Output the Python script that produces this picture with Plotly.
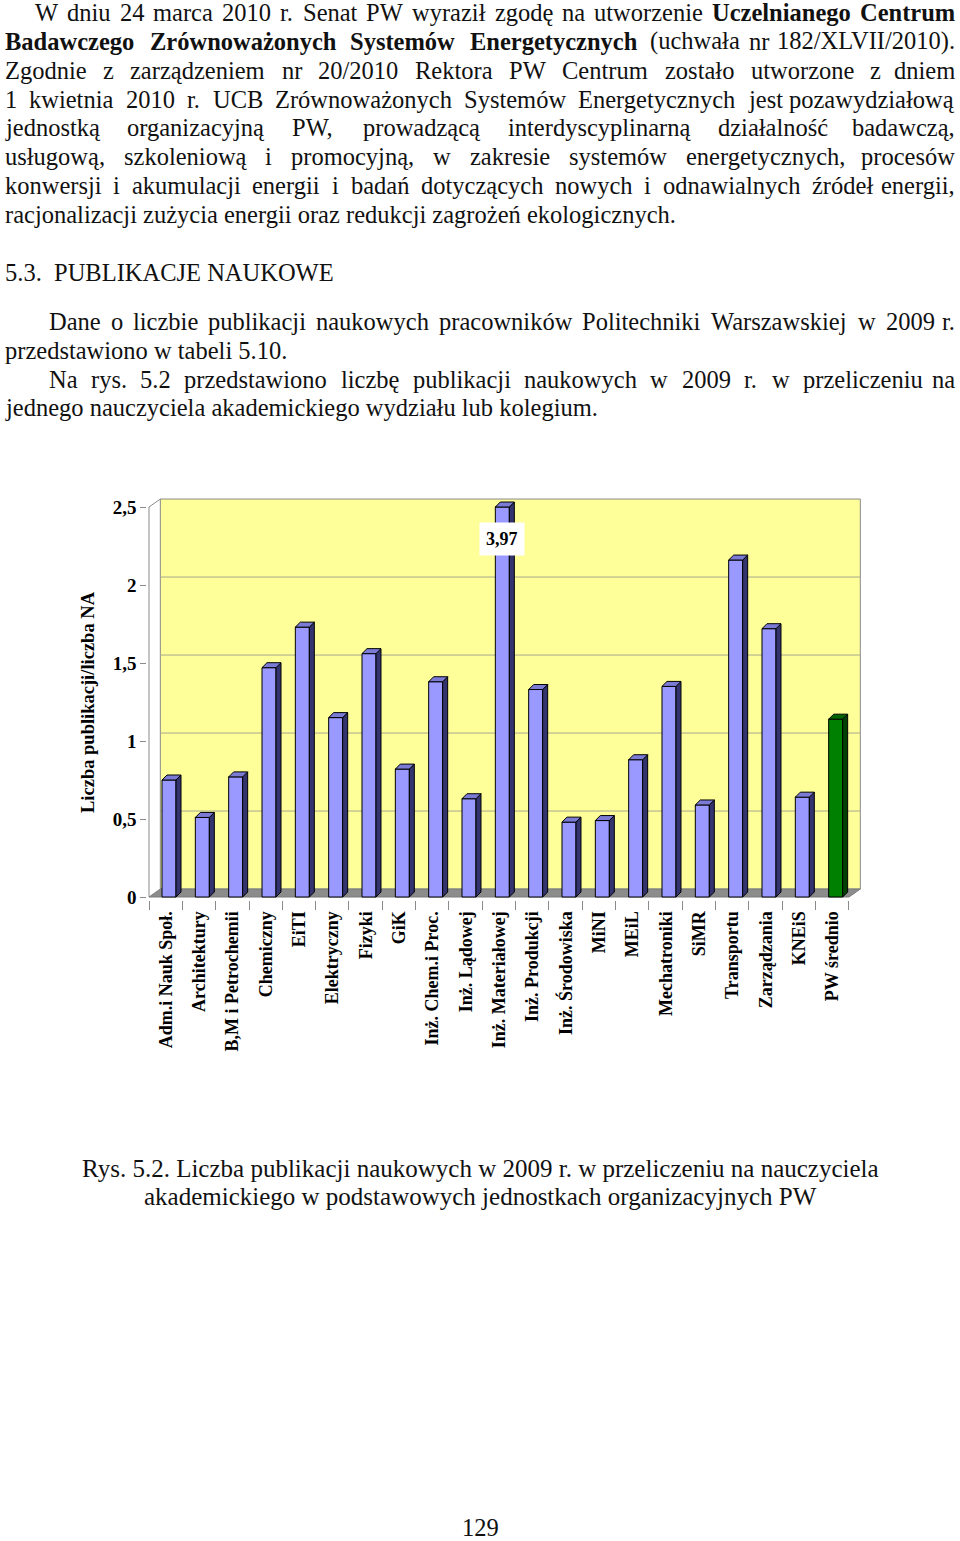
import unicodedata
import plotly.graph_objects as go

# dane z wykresu (rys. 5.2)
categories = ["Adm.i Nauk Społ.", "Architektury", "B,M i Petrochemii", "Chemiczny", "EiTI",
              "Elektryczny", "Fizyki", "GiK", "Inż. Chem.i Proc.", "Inż. Lądowej",
              "Inż. Materiałowej", "Inż. Produkcji", "Inż. Środowiska", "MiNI", "MEiL",
              "Mechatroniki", "SiMR", "Transportu", "Zarządzania", "KNEiS", "PW średnio"]
values = [0.75, 0.51, 0.77, 1.47, 1.73, 1.15, 1.56, 0.82, 1.38, 0.63, 3.97, 1.33,
          0.48, 0.49, 0.88, 1.35, 0.59, 2.16, 1.72, 0.64, 1.14]
y_ticks = [0, 0.5, 1, 1.5, 2, 2.5]
y_tick_labels = ["0", "0,5", "1", "1,5", "2", "2,5"]
y_title = "Liczba publikacji/liczba NA"

# tekst strony; "*" = pogrubienie
par1 = [
    "W dniu 24 marca 2010 r. Senat PW wyraził zgodę na utworzenie *Uczelnianego *Centrum",
    "*Badawczego *Zrównoważonych *Systemów *Energetycznych (uchwała nr 182/XLVII/2010).",
    "Zgodnie z zarządzeniem nr 20/2010 Rektora PW Centrum zostało utworzone z dniem",
    "1 kwietnia 2010 r. UCB Zrównoważonych Systemów Energetycznych jest pozawydziałową",
    "jednostką organizacyjną PW, prowadzącą interdyscyplinarną działalność badawczą,",
    "usługową, szkoleniową i promocyjną, w zakresie systemów energetycznych, procesów",
    "konwersji i akumulacji energii i badań dotyczących nowych i odnawialnych źródeł energii,",
    "racjonalizacji zużycia energii oraz redukcji zagrożeń ekologicznych.",
]
heading = "5.3.  PUBLIKACJE NAUKOWE"
par2 = [
    "Dane o liczbie publikacji naukowych pracowników Politechniki Warszawskiej w 2009 r.",
    "przedstawiono w tabeli 5.10.",
]
par3 = [
    "Na rys. 5.2 przedstawiono liczbę publikacji naukowych w 2009 r. w przeliczeniu na",
    "jednego nauczyciela akademickiego wydziału lub kolegium.",
]
caption = [
    "Rys. 5.2. Liczba publikacji naukowych w 2009 r. w przeliczeniu na nauczyciela",
    "akademickiego w podstawowych jednostkach organizacyjnych PW",
]
page_no = "129"

W, H = 960, 1541
FONT = "Liberation Serif"
FS = 24.5
y_max = 2.5

# geometria wykresu (piksele strony)
X_LEFT_PX = 149.0
CAT_PX = 33.333
Y0_PX = 897.0
UNIT_PX = 156.0
x_range = [-0.55, 20.9]
y_range = [-0.02, 2.58]
DX, DY = 0.34, 0.051      # przesunięcie tylnej ściany
BDX, BDY = 0.15, 0.032    # głębokość słupka
BW, BOFF = 0.42, -0.11


def xpx(v):
    return X_LEFT_PX + (v + 0.5) * CAT_PX


def ypx(v):
    return Y0_PX - v * UNIT_PX


EM = {
    "a": .444, "b": .5, "c": .444, "d": .5, "e": .444, "f": .333, "g": .5, "h": .5, "i": .278,
    "j": .278, "k": .5, "l": .278, "m": .778, "n": .5, "o": .5, "p": .5, "q": .5, "r": .333,
    "s": .389, "t": .278, "u": .5, "v": .5, "w": .722, "x": .5, "y": .5, "z": .444,
    "A": .722, "B": .667, "C": .667, "D": .722, "E": .611, "F": .556, "G": .722, "H": .722,
    "I": .333, "J": .389, "K": .722, "L": .611, "M": .889, "N": .722, "O": .722, "P": .556,
    "Q": .722, "R": .667, "S": .556, "T": .611, "U": .722, "V": .722, "W": .944, "X": .722,
    "Y": .722, "Z": .611, ".": .25, ",": .25, "/": .278, "(": .333, ")": .333, " ": .25,
}


def base(c):
    if c == "ł":
        return "l"
    if c == "Ł":
        return "L"
    return unicodedata.normalize("NFD", c)[0]


def word_width(w, size):
    bold = w.startswith("*")
    w = w.lstrip("*")
    em = sum(EM.get(base(c), 0.5) for c in w)
    return em * size * (1.08 if bold else 1.0)


def fmt(w):
    return "<b>" + w[1:] + "</b>" if w.startswith("*") else w


annotations = []


def text_line(s, x0, baseline, x1=None, size=FS, anchor="left"):
    yc = 1 - (baseline - 0.28 * size) / H
    if x1 is None:
        annotations.append(dict(text=s, x=x0 / W, y=yc, xref="paper", yref="paper",
                                xanchor=anchor, yanchor="middle", showarrow=False,
                                font=dict(family=FONT, size=size, color="#111")))
        return
    words = s.split()
    total = sum(word_width(w, size) for w in words)
    gap = (x1 - x0 - total) / (len(words) - 1)
    x = x0
    for k, w in enumerate(words):
        last = k == len(words) - 1
        annotations.append(dict(text=fmt(w), x=(x1 if last else x) / W, y=yc,
                                xref="paper", yref="paper",
                                xanchor="right" if last else "left", yanchor="middle",
                                showarrow=False,
                                font=dict(family=FONT, size=size, color="#111")))
        x += word_width(w, size) + gap


for i, line in enumerate(par1):
    bl = 19.5 + 28.8 * i
    if i == 0:
        text_line(line, 33, bl, 957)
    elif i == len(par1) - 1:
        text_line(line, 3, bl)
    else:
        text_line(line, 3, bl, 957)

text_line(heading, 3, 279)
text_line(par2[0], 47, 328, 957)
text_line(par2[1], 3, 357)
text_line(par3[0], 47, 386, 957)
text_line(par3[1], 3, 414)
text_line(caption[0], 480, 1175, size=25, anchor="center")
text_line(caption[1], 480, 1203, size=25, anchor="center")
text_line(page_no, 480, 1534, anchor="center")

# wykres
n = len(categories)
xs = list(range(n))
shown = [min(v, y_max) for v in values]
front = ["#9999ff"] * (n - 1) + ["#008000"]
side = ["#33336e"] * (n - 1) + ["#004000"]
top = ["#7b7bd6"] * (n - 1) + ["#006400"]

shapes = []
# tylna ściana
shapes.append(dict(type="rect", xref="x", yref="y", x0=-0.5 + DX, x1=20.5 + DX,
                   y0=DY, y1=y_max + DY, fillcolor="#ffff99",
                   line=dict(color="#8a8a8a", width=1), layer="below"))
for t in y_ticks[1:-1]:
    shapes.append(dict(type="line", xref="x", yref="y", x0=-0.5 + DX, x1=20.5 + DX,
                       y0=t + DY, y1=t + DY, line=dict(color="#a8a890", width=1),
                       layer="below"))
# podłoga
shapes.append(dict(type="path", xref="x", yref="y",
                   path=f"M -0.5,0 L 20.5,0 L {20.5 + DX},{DY} L {-0.5 + DX},{DY} Z",
                   fillcolor="#8c8c8c", line=dict(color="#7a7a7a", width=1), layer="below"))
# lewa krawędź osi
shapes.append(dict(type="path", xref="x", yref="y",
                   path=f"M -0.5,0 L -0.5,{y_max} L {-0.5 + DX},{y_max + DY}",
                   line=dict(color="#8a8a8a", width=1), layer="below"))

# boki i wierzchy słupków
for i in xs:
    xl = i + BOFF
    xr = xl + BW
    v = shown[i]
    shapes.append(dict(type="path", xref="x", yref="y",
                       path=f"M {xr},0 L {xr + BDX},{BDY} L {xr + BDX},{v + BDY} L {xr},{v} Z",
                       fillcolor=side[i], line=dict(color="#000", width=1)))
    shapes.append(dict(type="path", xref="x", yref="y",
                       path=f"M {xl},{v} L {xr},{v} L {xr + BDX},{v + BDY} L {xl + BDX},{v + BDY} Z",
                       fillcolor=top[i], line=dict(color="#000", width=1)))

fig = go.Figure()
fig.add_trace(go.Bar(x=xs, y=shown, width=BW, offset=BOFF,
                     marker=dict(color=front, line=dict(color="#000", width=1)),
                     hoverinfo="skip"))

# etykieta dla słupka poza skalą
for i, v in enumerate(values):
    if v > y_max:
        annotations.append(dict(text="<b>" + f"{v:.2f}".replace(".", ",") + "</b>",
                                x=i + BOFF + BW / 2, y=2.295, xref="x", yref="y",
                                showarrow=False, bgcolor="white", borderpad=6,
                                font=dict(family=FONT, size=18, color="#000")))

annotations.append(dict(text="<b>" + y_title + "</b>", x=88 / W, y=1 - 702 / H,
                        xref="paper", yref="paper", xanchor="center", yanchor="middle",
                        textangle=-90, showarrow=False,
                        font=dict(family=FONT, size=18.5, color="#000")))

x_dom = [xpx(x_range[0]) / W, xpx(x_range[1]) / W]
y_dom = [1 - ypx(y_range[0]) / H, 1 - ypx(y_range[1]) / H]

fig.update_layout(
    width=W, height=H,
    margin=dict(l=0, r=0, t=0, b=0),
    paper_bgcolor="white", plot_bgcolor="rgba(0,0,0,0)",
    showlegend=False,
    shapes=shapes, annotations=annotations,
    xaxis=dict(domain=x_dom, range=x_range, tickmode="array", tickvals=xs,
               ticktext=categories, tickangle=-90, ticks="outside", ticklen=3,
               tickcolor="rgba(0,0,0,0)", showgrid=False, zeroline=False, showline=False,
               automargin=False,
               tickfont=dict(family=FONT, size=18, color="#000", weight="bold"),
               minor=dict(ticks="outside", tick0=-0.5, dtick=1, ticklen=9,
                          tickcolor="#8a8a8a", showgrid=False)),
    yaxis=dict(domain=y_dom, range=y_range, tickmode="array", tickvals=y_ticks,
               ticktext=y_tick_labels, ticks="outside", ticklen=6, tickcolor="#8a8a8a",
               showgrid=False, zeroline=False, showline=False, automargin=False,
               tickfont=dict(family=FONT, size=19, color="#000", weight="bold")),
)

fig.write_html("out.html", config={"displayModeBar": False},
               post_script="document.body.style.margin='0';document.body.style.overflow='hidden';")
